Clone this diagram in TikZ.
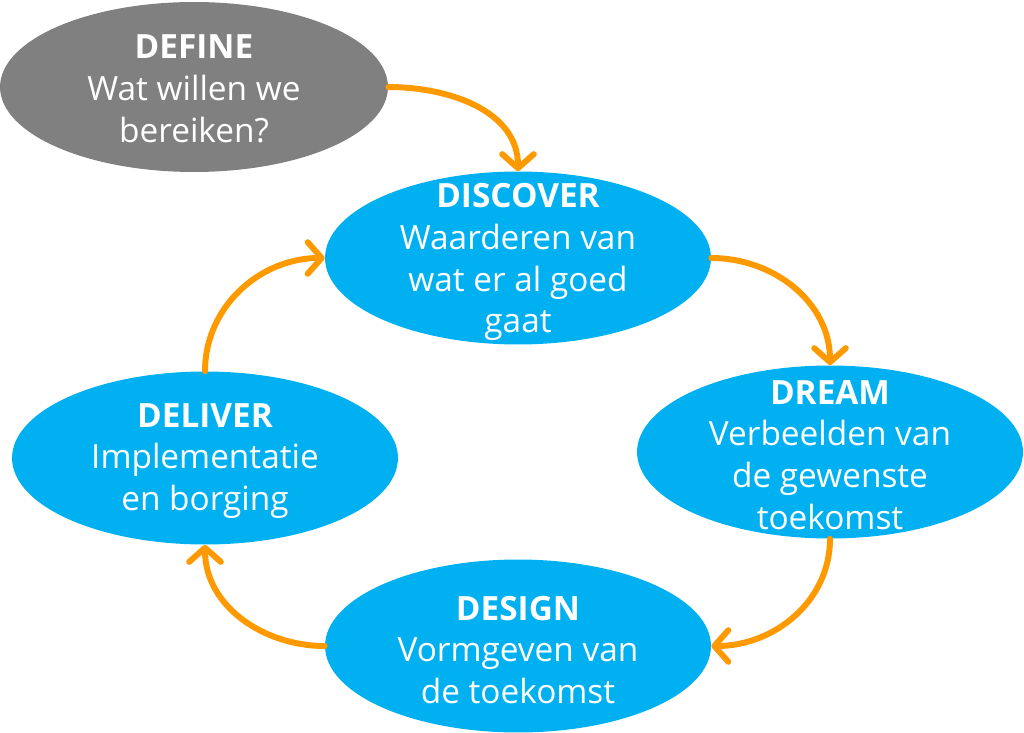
\documentclass[tikz,border=0pt]{standalone}
\usepackage{fontspec}
\setmainfont{Open Sans}
\usetikzlibrary{shapes.geometric,arrows.meta}
\definecolor{cblue}{HTML}{00B0F0}
\definecolor{cgray}{HTML}{808080}
\definecolor{corange}{HTML}{FF9900}
\tikzset{
  blob/.style={ellipse, inner sep=0pt, minimum width=7.72cm, minimum height=3.46cm, fill=cblue, draw=none},
  grayblob/.style={blob, fill=cgray, minimum width=7.76cm, minimum height=3.4cm},
  txt/.style={text=white, align=center, font=\fontsize{19}{23.8}\selectfont, inner sep=0pt},
  flow/.style={draw=corange, line width=3.4pt, line cap=round,
    -{Straight Barb[round, length=8pt, width=18pt]}}
}
\begin{document}
\begin{tikzpicture}[x=0.02cm, y=-0.02cm]
\useasboundingbox (0,0) rectangle (1024,733);
\node[grayblob] (define) at (194,87) {};
\node[blob] (discover) at (518,258) {};
\node[blob] (dream) at (830,452) {};
\node[blob] (design) at (518,646) {};
\node[blob] (deliver) at (205,458) {};
\node[txt] (definet) at (194,89) {\textbf{DEFINE}\\Wat willen we\\bereiken?};
\node[txt] (discovert) at (518,262) {\textbf{DISCOVER}\\Waarderen van\\wat er al goed\\gaat};
\node[txt] (dreamt) at (830,455) {\textbf{DREAM}\\Verbeelden van\\de gewenste\\toekomst};
\node[txt] (designt) at (518,650) {\textbf{DESIGN}\\Vormgeven van\\de toekomst};
\node[txt] (delivert) at (205,461) {\textbf{DELIVER}\\Implementatie\\en borging};
\draw[flow] (define.east) to[out=0, in=90] (discover.north);
\draw[flow] (discover.east) to[out=0, in=90] (dream.north);
\draw[flow] (dream.south) to[out=-90, in=0] (design.east);
\draw[flow] (design.west) to[out=180, in=-90] (deliver.south);
\draw[flow] (deliver.north) to[out=90, in=180] (discover.west);
\end{tikzpicture}
\end{document}
